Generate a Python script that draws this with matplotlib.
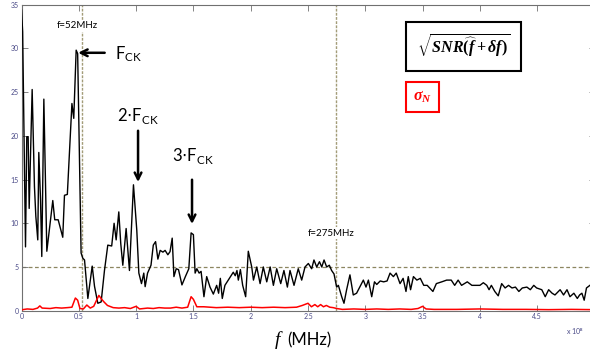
import matplotlib.pyplot as plt
import matplotlib as mpl
import numpy as np

## Data (x in units of 1e8 Hz)
snr_x = [0.0, 0.01, 0.035, 0.046, 0.058, 0.067, 0.093, 0.113, 0.125, 0.142, 0.151, 0.166, 0.177,
         0.195, 0.21, 0.221, 0.273, 0.29, 0.32, 0.36, 0.375, 0.40, 0.44, 0.456, 0.477, 0.49,
         0.52, 0.535, 0.55, 0.579, 0.617, 0.637, 0.666, 0.695, 0.724, 0.753, 0.787, 0.808,
         0.826, 0.849, 0.866, 0.884, 0.913, 0.942, 0.977, 1.006, 1.024, 1.047, 1.067, 1.079,
         1.10, 1.13, 1.15, 1.17, 1.19, 1.21, 1.234, 1.253, 1.277, 1.296, 1.315, 1.33, 1.35,
         1.37, 1.40, 1.43, 1.46, 1.48, 1.50, 1.515, 1.53, 1.55, 1.567, 1.592, 1.616, 1.645,
         1.674, 1.703, 1.72, 1.735, 1.752, 1.775, 1.804, 1.848, 1.865, 1.88, 1.892, 1.91,
         1.93, 1.956, 1.979, 2.009, 2.024, 2.053, 2.082, 2.11, 2.14, 2.17, 2.198, 2.227,
         2.262, 2.29, 2.32, 2.343, 2.378, 2.415, 2.445, 2.474, 2.503, 2.532, 2.552, 2.576,
         2.60, 2.62, 2.64, 2.663, 2.686, 2.706, 2.727, 2.75, 2.765, 2.794, 2.814, 2.837,
         2.866, 2.895, 2.924, 2.959, 2.983, 3.006, 3.027, 3.056, 3.08, 3.10, 3.13, 3.16,
         3.19, 3.216, 3.245, 3.27, 3.303, 3.33, 3.355, 3.375, 3.395, 3.42, 3.45, 3.48,
         3.51, 3.54, 3.59, 3.62, 3.667, 3.71, 3.75, 3.78, 3.81, 3.84, 3.89, 3.93, 3.97,
         4.0, 4.03, 4.06, 4.08, 4.10, 4.13, 4.16, 4.19, 4.22, 4.25, 4.28, 4.31, 4.34, 4.37,
         4.41, 4.44, 4.47, 4.495, 4.54, 4.57, 4.60, 4.63, 4.655, 4.70, 4.73, 4.76, 4.786,
         4.82, 4.85, 4.87, 4.89, 4.91, 4.93, 4.96]
snr_y = [34.4, 31.9, 7.3, 19.9, 19.9, 11.7, 25.3, 14.2, 10.8, 8.1, 18.1, 12.7, 6.2,
         24.2, 14.0, 6.8, 12.6, 10.4, 10.4, 8.4, 13.2, 13.3, 23.7, 22.0, 29.8, 29.4,
         6.6, 6.0, 5.8, 1.4, 5.1, 2.8, 0.85, 1.0, 4.6, 7.5, 7.4, 10.0,
         8.1, 11.3, 7.7, 5.2, 9.4, 4.6, 14.4, 9.2, 4.3, 3.1, 4.3, 2.75,
         4.3, 5.2, 7.5, 7.9, 5.9, 6.9, 6.7, 6.9, 6.4, 6.75, 8.3, 3.9, 4.8,
         4.7, 2.95, 3.9, 4.8, 8.9, 8.7, 4.3, 4.8, 4.3, 4.5, 1.6, 3.9, 2.7,
         1.9, 2.9, 2.0, 3.7, 1.4, 2.9, 3.5, 4.4, 4.0, 4.6, 3.5, 4.7,
         2.9, 1.6, 6.8, 5.0, 3.5, 5.0, 3.1, 5.0, 3.3, 5.0, 2.9, 4.8,
         3.1, 4.6, 2.7, 4.6, 2.9, 4.8, 3.5, 5.0, 5.4, 4.8, 5.8, 5.0,
         5.6, 5.0, 5.8, 5.0, 5.2, 4.6, 4.2, 2.7, 2.9, 1.6, 0.85, 2.4,
         4.1, 1.8, 2.0, 2.9, 3.5, 2.7, 3.5, 1.6, 3.3, 3.0, 3.4, 3.3,
         3.4, 4.3, 3.9, 4.3, 3.1, 3.7, 2.2, 3.9, 2.4, 3.9, 3.5, 3.7,
         2.9, 2.9, 2.2, 3.1, 3.3, 3.5, 3.5, 2.9, 3.5, 2.9, 3.3, 2.9, 2.9,
         2.9, 3.2, 2.9, 2.4, 2.9, 2.2, 1.7, 3.1, 2.6, 2.9, 2.6, 2.7, 2.2, 2.6,
         2.7, 2.4, 2.9, 2.6, 2.4, 1.6, 2.4, 2.0, 1.8, 2.4, 1.8, 2.4, 1.6,
         2.0, 1.4, 1.8, 2.0, 1.2, 2.6, 2.9]

sigma_x = [0.0, 0.05, 0.10, 0.14, 0.16, 0.18, 0.25, 0.30, 0.35, 0.40, 0.44, 0.47, 0.49,
           0.51, 0.54, 0.57, 0.60, 0.63, 0.675, 0.70, 0.72, 0.75, 0.80, 0.85, 0.90, 0.95,
           1.00, 1.03, 1.10, 1.15, 1.20, 1.25, 1.30, 1.35, 1.40, 1.45, 1.48, 1.50, 1.53,
           1.59, 1.70, 1.80, 1.90, 2.00, 2.10, 2.20, 2.30, 2.40, 2.45, 2.50, 2.53, 2.56,
           2.585, 2.61, 2.635, 2.66, 2.69, 2.72, 2.75, 2.80, 2.90, 3.00, 3.10, 3.20, 3.30,
           3.40, 3.46, 3.50, 3.53, 3.60, 3.80, 4.00, 4.20, 4.40, 4.60, 4.80, 5.00]
sigma_y = [0.1, 0.2, 0.15, 0.3, 0.55, 0.3, 0.25, 0.35, 0.3, 0.35, 0.4, 1.45, 1.2,
           0.25, 0.2, 0.65, 0.3, 0.5, 1.75, 1.3, 1.0, 0.6, 0.35, 0.3, 0.35, 0.25,
           0.5, 0.2, 0.3, 0.25, 0.35, 0.3, 0.3, 0.4, 0.3, 0.4, 1.6, 1.3, 0.45,
           0.45, 0.35, 0.4, 0.35, 0.4, 0.35, 0.4, 0.35, 0.4, 0.6, 0.85, 0.45, 0.7,
           0.45, 0.7, 0.45, 0.6, 0.4, 0.35, 0.25, 0.15, 0.2, 0.15, 0.2, 0.15, 0.2,
           0.15, 0.25, 0.5, 0.2, 0.15, 0.15, 0.2, 0.15, 0.15, 0.12, 0.15, 0.12]

xticks = [0, 0.5, 1, 1.5, 2, 2.5, 3, 3.5, 4, 4.5, 5]
xticklabels = ['0', '0.5', '1', '1.5', '2', '2.5', '3', '3.5', '4', '4.5', '']
yticks = [0, 5, 10, 15, 20, 25, 30, 35]

f_clk = 0.525     # 52 MHz marker
f_cut = 2.74      # 275 MHz marker
level = 5

## fonts: Lato for labels, serif bold italic for the legend math
mpl.rcParams['font.family'] = ['Lato', 'DejaVu Sans']
mpl.rcParams['mathtext.fontset'] = 'custom'
mpl.rcParams['mathtext.it'] = 'Liberation Serif:italic:bold'
mpl.rcParams['mathtext.rm'] = 'Liberation Serif:bold'
mpl.rcParams['mathtext.bf'] = 'Liberation Serif:bold'

fig = plt.figure(figsize=(5.9, 3.53), dpi=100)
ax = fig.add_axes([21.5/590, 42.3/353, 573/590, 306/353])

guide = '#a39c78'
ax.axvline(f_clk, color=guide, ls='--', lw=1.0, dashes=(2, 1), zorder=1)
ax.axvline(f_cut, color=guide, ls='--', lw=1.0, dashes=(2, 1), zorder=1)
ax.axhline(level, color='#8c8660', ls='--', lw=0.9, dashes=(3, 2), zorder=1)

ax.plot(snr_x, snr_y, color='black', lw=1.0, zorder=3)
ax.plot(sigma_x, sigma_y, color='red', lw=1.1, zorder=3)

ax.set_xlim(0, 5)
ax.set_ylim(0, 35)
ax.set_xticks(xticks)
ax.set_xticklabels(xticklabels)
ax.set_yticks(yticks)
ax.tick_params(direction='in', length=4, width=0.6, top=True, right=True,
               labelsize=5, colors='#707070', labelcolor='#4b4b88', pad=2)
for s in ax.spines.values():
    s.set_color('#707070')
    s.set_linewidth(0.8)

## marker labels
ax.text(0.484, 32.6, 'f=52MHz', fontsize=7, ha='center', va='center',
        bbox=dict(facecolor='white', edgecolor='none', pad=1), zorder=4)
ax.text(2.70, 8.86, 'f=275MHz', fontsize=7, ha='center', va='center',
        bbox=dict(facecolor='white', edgecolor='none', pad=1), zorder=4)

## clock harmonics
arr = dict(arrowstyle='->', lw=1.8, color='black', mutation_scale=12)
ax.annotate('', xy=(0.47, 29.5), xytext=(0.75, 29.5), arrowprops=arr, zorder=5)
ax.text(0.82, 29.3, r'F$_{\mathregular{CK}}$', fontsize=12, ha='left', va='center')
ax.annotate('', xy=(1.017, 14.4), xytext=(1.017, 20.9), arrowprops=arr, zorder=5)
ax.text(1.017, 22.3, r'2$\cdot$F$_{\mathregular{CK}}$', fontsize=12, ha='center', va='center',
        math_fontfamily='dejavusans')
ax.annotate('', xy=(1.488, 9.6), xytext=(1.488, 15.3), arrowprops=arr, zorder=5)
ax.text(1.497, 17.7, r'3$\cdot$F$_{\mathregular{CK}}$', fontsize=12, ha='center', va='center',
        math_fontfamily='dejavusans')

## legend boxes
ax.text(3.857, 30.2, r'$\sqrt{SNR\widehat{(f}+\delta f)}$', fontsize=11.5,
        ha='center', va='center', math_fontfamily='custom',
        bbox=dict(boxstyle='square,pad=0.7', facecolor='white', edgecolor='black', lw=1.5))
ax.text(3.499, 24.45, r'$\sigma_N$', fontsize=11.5, color='red',
        ha='center', va='center', math_fontfamily='custom',
        bbox=dict(boxstyle='square,pad=0.45', facecolor='white', edgecolor='red', lw=1.5))

## axis label
fig.text(0.470, 0.037, 'f', fontsize=14, family='Liberation Serif', style='italic',
         ha='center', va='center')
fig.text(0.524, 0.037, '(MHz)', fontsize=12, ha='center', va='center')
fig.text(0.959, 0.063, r'x 10$^{8}$', fontsize=5, color='#4b4b88', ha='left', va='center')

fig.savefig('out.png', dpi=100)
